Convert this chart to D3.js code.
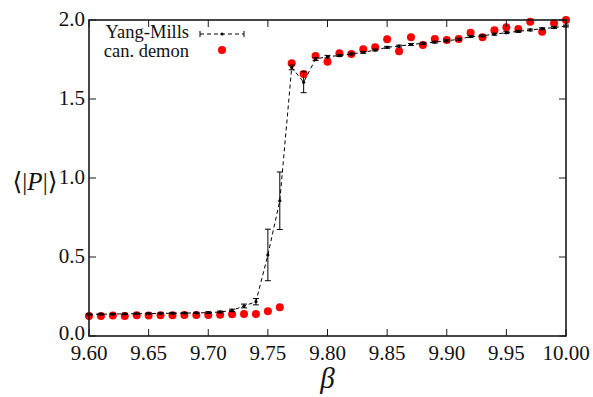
<!DOCTYPE html>
<html>
<head>
<meta charset="utf-8">
<script src="https://cdn.jsdelivr.net/npm/d3@7"></script>
<style>
  html, body { margin: 0; padding: 0; background: #fff; }
  svg { display: block; }
  svg text { font-family: "Liberation Serif", "Times New Roman", Times, "DejaVu Serif", serif; }
</style>
</head>
<body>
<div id="chart"></div>
<script>
// ── Data ──────────────────────────────────────────────────────────────────
const betaYM = [9.60, 9.61, 9.62, 9.63, 9.64, 9.65, 9.66, 9.67, 9.68, 9.69, 9.70,
  9.71, 9.72, 9.73, 9.74, 9.75, 9.76, 9.77, 9.78, 9.79, 9.80,
  9.81, 9.82, 9.83, 9.84, 9.85, 9.86, 9.87, 9.88, 9.89, 9.90,
  9.91, 9.92, 9.93, 9.94, 9.95, 9.96, 9.97, 9.98, 9.99, 10.00];
const polyakovYM = [0.137, 0.138, 0.139, 0.140, 0.141, 0.142, 0.143, 0.144, 0.145, 0.146, 0.148,
  0.152, 0.162, 0.190, 0.217, 0.513, 0.856, 1.700, 1.606, 1.753, 1.768,
  1.775, 1.785, 1.795, 1.810, 1.827, 1.835, 1.845, 1.852, 1.860, 1.868,
  1.878, 1.895, 1.900, 1.910, 1.920, 1.928, 1.937, 1.945, 1.952, 1.962];
const errorYM = [0.004, 0.004, 0.004, 0.004, 0.004, 0.004, 0.004, 0.004, 0.004, 0.004, 0.005,
  0.006, 0.008, 0.012, 0.020, 0.163, 0.182, 0.015, 0.066, 0.010, 0.008,
  0.006, 0.006, 0.006, 0.006, 0.006, 0.006, 0.006, 0.006, 0.006, 0.006,
  0.006, 0.006, 0.006, 0.006, 0.006, 0.006, 0.006, 0.006, 0.006, 0.006];

const betaDemon = betaYM;
const polyakovDemon = [0.127, 0.127, 0.129, 0.127, 0.131, 0.129, 0.131, 0.131, 0.133, 0.133, 0.133,
  0.135, 0.137, 0.139, 0.139, 0.156, 0.182, 1.726, 1.658, 1.772, 1.736,
  1.789, 1.785, 1.815, 1.827, 1.878, 1.802, 1.891, 1.842, 1.880, 1.873,
  1.880, 1.920, 1.891, 1.935, 1.954, 1.943, 1.989, 1.926, 1.979, 2.000];

const xTicks = [9.60, 9.65, 9.70, 9.75, 9.80, 9.85, 9.90, 9.95, 10.00];
const yTicks = [0.0, 0.5, 1.0, 1.5, 2.0];
const legendLabels = ["Yang-Mills", "can. demon"];

// ── Layout ────────────────────────────────────────────────────────────────
const W = 593, H = 397;
const M = { top: 20, right: 27, bottom: 61, left: 89 };
const FONT = '"Liberation Serif", "Times New Roman", Times, "DejaVu Serif", serif';

const x = d3.scaleLinear().domain([9.60, 10.00]).range([M.left, W - M.right]);
const y = d3.scaleLinear().domain([0, 2]).range([H - M.bottom, M.top]);

const svg = d3.select("#chart").append("svg")
  .attr("width", W).attr("height", H)
  .attr("font-family", FONT);

const ym = betaYM.map((b, i) => ({ b, v: polyakovYM[i], e: errorYM[i] }));
const demon = betaDemon.map((b, i) => ({ b, v: polyakovDemon[i] }));

// ── Red demon points (drawn underneath) ───────────────────────────────────
svg.append("g")
  .selectAll("circle")
  .data(demon)
  .join("circle")
  .attr("cx", (d) => x(d.b))
  .attr("cy", (d) => y(d.v))
  .attr("r", 4)
  .attr("fill", "#ff0000");

// ── Yang-Mills: dashed line, error bars, markers ─────────────────────────
svg.append("path")
  .datum(ym)
  .attr("fill", "none")
  .attr("stroke", "#000")
  .attr("stroke-width", 1)
  .attr("stroke-dasharray", "4 3")
  .attr("d", d3.line().x((d) => x(d.b)).y((d) => y(d.v)));

const CAP = 3;
const eb = svg.append("g").attr("stroke", "#000").attr("stroke-width", 1);
eb.selectAll("line.v")
  .data(ym)
  .join("line")
  .attr("class", "v")
  .attr("x1", (d) => x(d.b)).attr("x2", (d) => x(d.b))
  .attr("y1", (d) => y(d.v - d.e)).attr("y2", (d) => y(d.v + d.e));
eb.selectAll("line.lo")
  .data(ym)
  .join("line")
  .attr("class", "lo")
  .attr("x1", (d) => x(d.b) - CAP).attr("x2", (d) => x(d.b) + CAP)
  .attr("y1", (d) => y(d.v - d.e)).attr("y2", (d) => y(d.v - d.e));
eb.selectAll("line.hi")
  .data(ym)
  .join("line")
  .attr("class", "hi")
  .attr("x1", (d) => x(d.b) - CAP).attr("x2", (d) => x(d.b) + CAP)
  .attr("y1", (d) => y(d.v + d.e)).attr("y2", (d) => y(d.v + d.e));

svg.append("g")
  .selectAll("circle")
  .data(ym)
  .join("circle")
  .attr("cx", (d) => x(d.b))
  .attr("cy", (d) => y(d.v))
  .attr("r", 1.6)
  .attr("fill", "#000");

// ── Axes (box with inward ticks on all sides) ─────────────────────────────
const TL = 7;
const axisCol = "#1a1a1a";
const ticks = svg.append("g").attr("stroke", axisCol).attr("stroke-width", 1);
xTicks.forEach((t) => {
  ticks.append("line").attr("x1", x(t)).attr("x2", x(t)).attr("y1", y(0)).attr("y2", y(0) - TL);
  ticks.append("line").attr("x1", x(t)).attr("x2", x(t)).attr("y1", y(2)).attr("y2", y(2) + TL);
});
yTicks.forEach((t) => {
  ticks.append("line").attr("x1", x(9.6)).attr("x2", x(9.6) + TL).attr("y1", y(t)).attr("y2", y(t));
  ticks.append("line").attr("x1", x(10)).attr("x2", x(10) - TL).attr("y1", y(t)).attr("y2", y(t));
});

svg.append("rect")
  .attr("x", x(9.6)).attr("y", y(2))
  .attr("width", x(10) - x(9.6)).attr("height", y(0) - y(2))
  .attr("fill", "none")
  .attr("stroke", axisCol)
  .attr("stroke-width", 1.6);

svg.append("g")
  .selectAll("text")
  .data(xTicks)
  .join("text")
  .attr("x", (d) => x(d))
  .attr("y", y(0) + 24)
  .attr("text-anchor", "middle")
  .attr("font-size", 21)
  .attr("fill", "#111")
  .text((d) => d.toFixed(2));

svg.append("g")
  .selectAll("text")
  .data(yTicks)
  .join("text")
  .attr("x", x(9.6) - 4)
  .attr("y", (d) => y(d))
  .attr("dy", (d) => (d === 0 ? "0.2em" : "0.3em"))
  .attr("text-anchor", "end")
  .attr("font-size", 21)
  .attr("fill", "#111")
  .text((d) => d.toFixed(1));

// axis titles
svg.append("text")
  .attr("x", (x(9.6) + x(10)) / 2)
  .attr("y", 388)
  .attr("text-anchor", "middle")
  .attr("font-size", 29)
  .attr("font-style", "italic")
  .attr("fill", "#111")
  .text("β");

const yl = svg.append("text")
  .attr("x", 35)
  .attr("y", 190)
  .attr("text-anchor", "middle")
  .attr("font-size", 25)
  .attr("fill", "#111");
yl.append("tspan").text("⟨|");
yl.append("tspan").attr("font-style", "italic").text("P");
yl.append("tspan").text("|⟩");

// ── Legend ────────────────────────────────────────────────────────────────
const lg = svg.append("g");
lg.selectAll("text")
  .data(legendLabels)
  .join("text")
  .attr("x", 189)
  .attr("y", (d, i) => 38 + i * 19)
  .attr("text-anchor", "end")
  .attr("font-size", 18.5)
  .attr("fill", "#111")
  .text((d) => d);

const lx0 = 200, lx1 = 244, ly = 34;
lg.append("line").attr("x1", lx0).attr("x2", lx1).attr("y1", ly).attr("y2", ly)
  .attr("stroke", "#000").attr("stroke-width", 1).attr("stroke-dasharray", "4 3");
[lx0, lx1].forEach((lx) => {
  lg.append("line").attr("x1", lx).attr("x2", lx).attr("y1", ly - 3).attr("y2", ly + 3)
    .attr("stroke", "#000").attr("stroke-width", 1);
});
lg.append("circle").attr("cx", (lx0 + lx1) / 2).attr("cy", ly).attr("r", 1.6).attr("fill", "#000");
lg.append("circle").attr("cx", (lx0 + lx1) / 2).attr("cy", 50).attr("r", 4).attr("fill", "#ff0000");
</script>
</body>
</html>
